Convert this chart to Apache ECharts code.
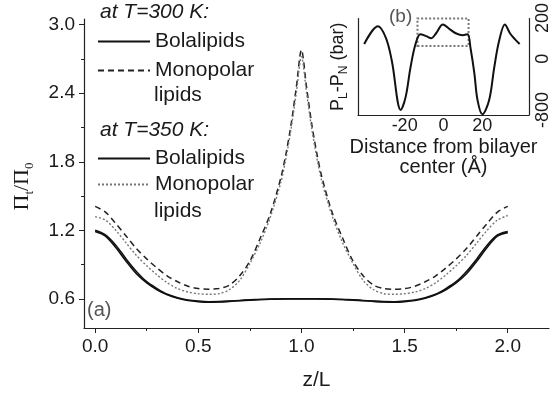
<!DOCTYPE html>
<html>
<head>
<meta charset="utf-8">
<script src="https://cdn.jsdelivr.net/npm/echarts@6/dist/echarts.min.js"></script>
<style>
    html, body { margin: 0; padding: 0; background: #fff; }
    #chart { width: 552px; height: 396px; }
</style>
</head>
<body>
<div id="chart"></div>
<script>
// main panel (a): z/L against Pi_t/Pi_0
const zL = [0, 0.05, 0.1, 0.15, 0.2, 0.25, 0.3, 0.35, 0.4, 0.45, 0.5, 0.55, 0.6, 0.65, 0.7, 0.75, 0.8, 0.85,
    0.9, 0.925, 0.95, 0.975, 1.0, 1.025, 1.05, 1.075, 1.1,
    1.15, 1.2, 1.25, 1.3, 1.35, 1.4, 1.45, 1.5, 1.55, 1.6, 1.65, 1.7, 1.75, 1.8, 1.85, 1.9, 1.95, 2.0];

const bola300 = [1.19, 1.15, 1.05, 0.93, 0.82, 0.74, 0.68, 0.635, 0.605, 0.585, 0.575, 0.57, 0.572, 0.578, 0.584, 0.589, 0.594, 0.597,
    0.599, 0.60, 0.60, 0.60, 0.60, 0.60, 0.60, 0.60, 0.599,
    0.597, 0.594, 0.589, 0.584, 0.578, 0.572, 0.57, 0.575, 0.585, 0.605, 0.635, 0.68, 0.74, 0.82, 0.93, 1.05, 1.15, 1.18];

const mono300 = [1.41, 1.36, 1.26, 1.15, 1.04, 0.95, 0.87, 0.80, 0.75, 0.71, 0.69, 0.685, 0.69, 0.72, 0.80, 0.93, 1.13, 1.35,
    1.66, 1.87, 2.13, 2.45, 2.78, 2.45, 2.13, 1.87, 1.66,
    1.35, 1.13, 0.93, 0.80, 0.72, 0.69, 0.685, 0.69, 0.71, 0.75, 0.80, 0.87, 0.95, 1.04, 1.15, 1.26, 1.36, 1.41];

const bola350 = [1.20, 1.16, 1.07, 0.95, 0.84, 0.75, 0.69, 0.64, 0.61, 0.59, 0.58, 0.575, 0.576, 0.58, 0.586, 0.591, 0.595, 0.598,
    0.60, 0.601, 0.601, 0.601, 0.601, 0.601, 0.601, 0.601, 0.60,
    0.598, 0.595, 0.591, 0.586, 0.58, 0.576, 0.575, 0.58, 0.59, 0.61, 0.64, 0.69, 0.75, 0.84, 0.95, 1.07, 1.16, 1.19];

const mono350 = [1.32, 1.29, 1.20, 1.09, 0.98, 0.89, 0.81, 0.74, 0.69, 0.66, 0.645, 0.64, 0.645, 0.68, 0.76, 0.91, 1.09, 1.32,
    1.62, 1.83, 2.09, 2.40, 2.72, 2.40, 2.09, 1.83, 1.62,
    1.32, 1.09, 0.91, 0.76, 0.68, 0.645, 0.64, 0.645, 0.66, 0.69, 0.74, 0.81, 0.89, 0.98, 1.09, 1.20, 1.29, 1.33];

const xTicks = [0, 0.5, 1.0, 1.5, 2.0];
const xMinorTicks = [0.25, 0.75, 1.25, 1.75];
const yTicks = [0.6, 1.2, 1.8, 2.4, 3.0];
const yMinorTicks = [0.9, 1.5, 2.1, 2.7];

// inset (b): pressure profile across the bilayer
const insetDist = [-40.8, -33.7, -29.6, -26.6, -22.0, -19.5, -17.0, -14.4, -11.9, -8.9, -6.3, -3.8, -0.3, 3.3,
    6.3, 9.9, 12.4, 13.9, 15.9, 17.5, 20.0, 23.5, 26.1, 28.6, 31.6, 34.2, 36.7, 39.2];
const insetPress = [231, 508, 323, -31, -800, -600, -138, 231, 385, 354, 323, 400, 538, 461,
    400, 369, 385, 169, -231, -646, -870, -646, -138, 277, 538, 400, 308, 231];
const insetXTicks = [-20, 0, 20];
const insetYTicks = [-800, 0, 200];
const insetBoxX = [-13.4, 12.9];
const insetBoxY = [200, 630];

const FONT = "'Liberation Sans', Arial, sans-serif";
const TEXT = "#1a1a1a";
const AXIS = "#222";

function pairs(xs, ys) {
    return xs.map((x, i) => [x, ys[i]]);
}

const chart = echarts.init(document.getElementById("chart"));

const legendBase = {
    orient: "vertical", left: 97, padding: 0,
    itemWidth: 52, itemHeight: 14, selectedMode: false,
    itemStyle: { opacity: 0 },
    formatter: n => n.split(" ")[0],
    textStyle: { fontSize: 21, lineHeight: 20, color: TEXT, fontFamily: FONT }
};

const option = {
    animation: false,
    backgroundColor: "#fff",
    grid: [
        { left: 81, right: 3, top: 19, bottom: 66 },
        { left: 358, right: 20, top: 17, bottom: 281 }
    ],
    xAxis: [
        {
            type: "value", gridIndex: 0, min: -0.054, max: 2.2,
            axisLine: { show: true, onZero: false, lineStyle: { color: AXIS, width: 1.2 } },
            axisTick: { show: true, inside: false, length: 5, customValues: xTicks, lineStyle: { color: AXIS } },
            axisLabel: {
                customValues: xTicks, formatter: v => v.toFixed(1), margin: 9,
                fontSize: 19, color: TEXT, fontFamily: FONT
            },
            splitLine: { show: false },
            name: "z/L", nameLocation: "middle", nameGap: 42,
            nameTextStyle: { fontSize: 21, color: TEXT, fontFamily: FONT }
        },
        {
            type: "value", gridIndex: 0, min: -0.054, max: 2.2, position: "bottom",
            axisLine: { show: false, onZero: false },
            axisTick: { show: true, length: 3, customValues: xMinorTicks, lineStyle: { color: AXIS } },
            axisLabel: { show: false },
            splitLine: { show: false }
        },
        {
            type: "value", gridIndex: 1, min: -44, max: 44,
            axisLine: { show: true, onZero: false, lineStyle: { color: AXIS, width: 1.2 } },
            axisTick: { show: false },
            axisLabel: {
                customValues: insetXTicks, margin: 2,
                fontSize: 18, color: TEXT, fontFamily: FONT
            },
            splitLine: { show: false },
            name: "Distance from bilayer\ncenter (Å)", nameLocation: "middle", nameGap: 22,
            nameTextStyle: { fontSize: 20, lineHeight: 20, color: TEXT, fontFamily: FONT }
        }
    ],
    yAxis: [
        {
            type: "value", gridIndex: 0, min: 0.345, max: 3.05,
            axisLine: { show: true, onZero: false, lineStyle: { color: AXIS, width: 1.2 } },
            axisTick: { show: true, inside: false, length: 5, customValues: yTicks, lineStyle: { color: AXIS } },
            axisLabel: {
                customValues: yTicks, formatter: v => v.toFixed(1), margin: 9,
                fontSize: 19, color: TEXT, fontFamily: FONT
            },
            splitLine: { show: false },
            name: "Π{sub|t}/Π{sub|0}", nameLocation: "middle", nameRotate: 90, nameGap: 48,
            nameTextStyle: {
                fontSize: 22, lineHeight: 28, color: TEXT, fontFamily: "'Liberation Serif', serif",
                padding: [0, 26, 0, 0],
                rich: { sub: { fontSize: 13, verticalAlign: "bottom", fontFamily: "'Liberation Serif', serif" } }
            }
        },
        {
            type: "value", gridIndex: 0, min: 0.345, max: 3.05, position: "left",
            axisLine: { show: false, onZero: false },
            axisTick: { show: true, length: 3, customValues: yMinorTicks, lineStyle: { color: AXIS } },
            axisLabel: { show: false },
            splitLine: { show: false }
        },
        {
            type: "value", gridIndex: 1, min: -880, max: 630, position: "right",
            axisLine: { show: true, onZero: false, lineStyle: { color: AXIS, width: 1.2 } },
            axisTick: { show: false },
            axisLabel: {
                customValues: insetYTicks, rotate: 90, margin: 5,
                fontSize: 18, color: TEXT, fontFamily: FONT,
                formatter: v => v === 200 ? "{up|200}" : String(v),
                rich: { up: { fontSize: 18, color: TEXT, fontFamily: FONT, padding: [0, 0, 0, 56] } }
            },
            splitLine: { show: false }
        },
        {
            type: "value", gridIndex: 1, min: -880, max: 630, position: "left",
            axisLine: { show: true, onZero: false, lineStyle: { color: AXIS, width: 1.2 } },
            axisTick: { show: false },
            axisLabel: { show: false },
            splitLine: { show: false },
            name: "P{sub|L}-P{sub|N} (bar)", nameLocation: "middle", nameRotate: 90, nameGap: 8,
            nameTextStyle: {
                fontSize: 18, lineHeight: 24, color: TEXT, fontFamily: FONT,
                rich: { sub: { fontSize: 12, verticalAlign: "bottom", fontFamily: FONT } }
            }
        }
    ],
    legend: [
        Object.assign({}, legendBase, { data: ["Bolalipids 300", "Monopolar 300"], top: 31, itemGap: 8 }),
        Object.assign({}, legendBase, { data: ["Bolalipids 350", "Monopolar 350"], top: 148, itemGap: 5 })
    ],
    graphic: [
        { type: "text", left: 100, top: 2, style: { text: "at T=300 K:", font: "italic 21px 'Liberation Sans'", fill: TEXT } },
        { type: "text", left: 154, top: 85, style: { text: "lipids", font: "21px 'Liberation Sans'", fill: TEXT } },
        { type: "text", left: 100, top: 120, style: { text: "at T=350 K:", font: "italic 21px 'Liberation Sans'", fill: TEXT } },
        { type: "text", left: 154, top: 201, style: { text: "lipids", font: "21px 'Liberation Sans'", fill: TEXT } },
        { type: "text", left: 87, top: 300, style: { text: "(a)", font: "20px 'Liberation Sans'", fill: "#555" } },
        { type: "text", left: 389, top: 7, style: { text: "(b)", font: "19px 'Liberation Sans'", fill: "#555" } }
    ],
    series: [
        {
            name: "Bolalipids 300", type: "line", xAxisIndex: 0, yAxisIndex: 0,
            data: pairs(zL, bola300), smooth: 0.3, symbol: "none",
            lineStyle: { color: "#111", width: 1.6, type: "solid" }, itemStyle: { color: "#111" }
        },
        {
            name: "Monopolar 300", type: "line", xAxisIndex: 0, yAxisIndex: 0,
            data: pairs(zL, mono300), smooth: 0.3, symbol: "none",
            lineStyle: { color: "#222", width: 1.5, type: [6, 4] }, itemStyle: { color: "#222" }
        },
        {
            name: "Bolalipids 350", type: "line", xAxisIndex: 0, yAxisIndex: 0,
            data: pairs(zL, bola350), smooth: 0.3, symbol: "none",
            lineStyle: { color: "#111", width: 1.6, type: "solid" }, itemStyle: { color: "#111" }
        },
        {
            name: "Monopolar 350", type: "line", xAxisIndex: 0, yAxisIndex: 0,
            data: pairs(zL, mono350), smooth: 0.3, symbol: "none",
            lineStyle: { color: "#777", width: 1.4, type: [2, 2] }, itemStyle: { color: "#777" }
        },
        {
            name: "inset", type: "line", xAxisIndex: 2, yAxisIndex: 2,
            data: pairs(insetDist, insetPress), smooth: 0.35, symbol: "none",
            lineStyle: { color: "#111", width: 2 },
            markArea: {
                silent: true,
                itemStyle: { color: "rgba(0,0,0,0)", borderColor: "#777", borderWidth: 2, borderType: [2, 2] },
                data: [[{ coord: [insetBoxX[0], insetBoxY[0]] }, { coord: [insetBoxX[1], insetBoxY[1]] }]]
            }
        }
    ]
};

chart.setOption(option);
</script>
</body>
</html>
